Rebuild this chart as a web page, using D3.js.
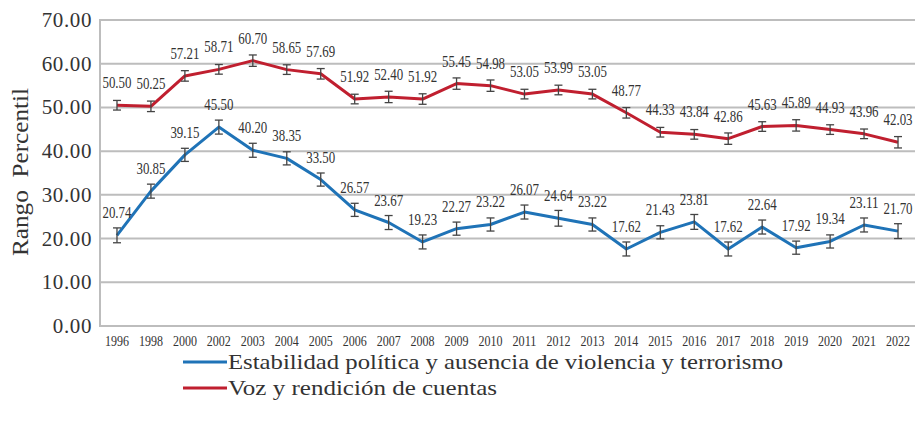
<!DOCTYPE html>
<html><head><meta charset="utf-8">
<script src="https://cdn.jsdelivr.net/npm/d3@7"></script>
<style>
body{margin:0;background:#fff;}
svg{display:block;}
svg text{font-family:"Liberation Serif","Times New Roman",Tinos,"DejaVu Serif","Noto Serif",Times,serif;}
</style></head>
<body>
<svg id="chart" width="919" height="426"></svg>
<script>
const years = ["1996","1998","2000","2002","2003","2004","2005","2006","2007","2008","2009","2010","2011","2012","2013","2014","2015","2016","2017","2018","2019","2020","2021","2022"];
const estabilidad = [20.74,30.85,39.15,45.50,40.20,38.35,33.50,26.57,23.67,19.23,22.27,23.22,26.07,24.64,23.22,17.62,21.43,23.81,17.62,22.64,17.92,19.34,23.11,21.70];
const voz = [50.50,50.25,57.21,58.71,60.70,58.65,57.69,51.92,52.40,51.92,55.45,54.98,53.05,53.99,53.05,48.77,44.33,43.84,42.86,45.63,45.89,44.93,43.96,42.03];
const estabilidadErr = [1.7,1.6,1.5,1.6,1.6,1.5,1.5,1.5,1.6,1.6,1.5,1.5,1.6,1.8,1.5,1.6,1.5,1.7,1.6,1.6,1.5,1.5,1.6,1.7];
const vozErr = [1.1,1.2,1.2,1.1,1.3,1.1,1.2,1.1,1.3,1.2,1.3,1.3,1.1,1.1,1.1,1.2,1.1,1.1,1.3,1.1,1.3,1.1,1.1,1.3];
const yTicks = [0,10,20,30,40,50,60,70];
const seriesNames = ["Estabilidad política y ausencia de violencia y terrorismo","Voz y rendición de cuentas"];
const seriesColors = ["#1f73b7","#c01f2f"];
const yTitle = "Rango  Percentil";

const svg = d3.select("#chart");
const mLeft = 100, mRight = 915, mTop = 20, mBottom = 326;
const x = d3.scalePoint().domain(years).range([mLeft, mRight]).padding(0.5);
const y = d3.scaleLinear().domain([0,70]).range([mBottom, mTop]);

svg.append("g").selectAll("line").data(yTicks).join("line")
  .attr("x1", mLeft).attr("x2", mRight)
  .attr("y1", d=>y(d)).attr("y2", d=>y(d))
  .attr("stroke", "#bdbdbd").attr("stroke-width", 2);
svg.append("line").attr("x1", mLeft).attr("x2", mLeft).attr("y1", y(70)-1).attr("y2", y(0)+1)
  .attr("stroke", "#bdbdbd").attr("stroke-width", 2);

svg.append("g").selectAll("text").data(yTicks).join("text")
  .attr("x", mLeft-8).attr("y", d=>y(d)+7)
  .attr("text-anchor","end").attr("font-size", 21).attr("fill","#333")
  .attr("letter-spacing", 0.6)
  .text(d=>d.toFixed(2));

svg.append("text").attr("transform", `translate(28,${(mTop+mBottom)/2-1}) rotate(-90)`)
  .attr("text-anchor","middle").attr("font-size", 23).attr("fill","#333")
  .attr("xml:space","preserve").style("white-space","pre")
  .attr("textLength", 168).attr("lengthAdjust","spacingAndGlyphs")
  .text(yTitle);

svg.append("g").selectAll("text").data(years).join("text")
  .attr("x", d=>x(d)).attr("y", 346)
  .attr("text-anchor","middle").attr("font-size", 14.5).attr("fill","#333")
  .attr("textLength", 24).attr("lengthAdjust","spacingAndGlyphs")
  .text(d=>d);

const series = [
  {vals: estabilidad, err: estabilidadErr, color: seriesColors[0]},
  {vals: voz, err: vozErr, color: seriesColors[1]}
];
const line = d3.line().x((d,i)=>x(years[i])).y(d=>y(d));

series.forEach(s=>{
  svg.append("path").datum(s.vals).attr("d", line)
    .attr("fill","none").attr("stroke", s.color).attr("stroke-width", 3)
    .attr("stroke-linejoin","round");
});
series.forEach(s=>{
  const g = svg.append("g").attr("stroke","#444").attr("stroke-width",1.3);
  s.vals.forEach((v,i)=>{
    const cx = x(years[i]), e = s.err[i];
    g.append("line").attr("x1",cx).attr("x2",cx).attr("y1",y(v+e)).attr("y2",y(v-e));
    g.append("line").attr("x1",cx-4).attr("x2",cx+4).attr("y1",y(v+e)).attr("y2",y(v+e));
    g.append("line").attr("x1",cx-4).attr("x2",cx+4).attr("y1",y(v-e)).attr("y2",y(v-e));
  });
});
series.forEach(s=>{
  svg.append("g").selectAll("text").data(s.vals).join("text")
    .attr("x",(d,i)=>x(years[i])).attr("y",(d,i)=>y(d)-17)
    .attr("text-anchor","middle").attr("font-size",16).attr("fill","#333")
    .attr("textLength", 29).attr("lengthAdjust","spacingAndGlyphs")
    .text(d=>d.toFixed(2));
});

const legendLen = [555, 269];
const lg = svg.append("g");
seriesNames.forEach((n,i)=>{
  const ly = 362 + i*26;
  lg.append("line").attr("x1",183).attr("x2",227).attr("y1",ly).attr("y2",ly)
    .attr("stroke", seriesColors[i]).attr("stroke-width",3);
  lg.append("text").attr("x",228).attr("y",ly+7).attr("font-size",21).attr("fill","#333")
    .attr("textLength", legendLen[i]).attr("lengthAdjust","spacingAndGlyphs").text(n);
});
</script>
</body></html>
